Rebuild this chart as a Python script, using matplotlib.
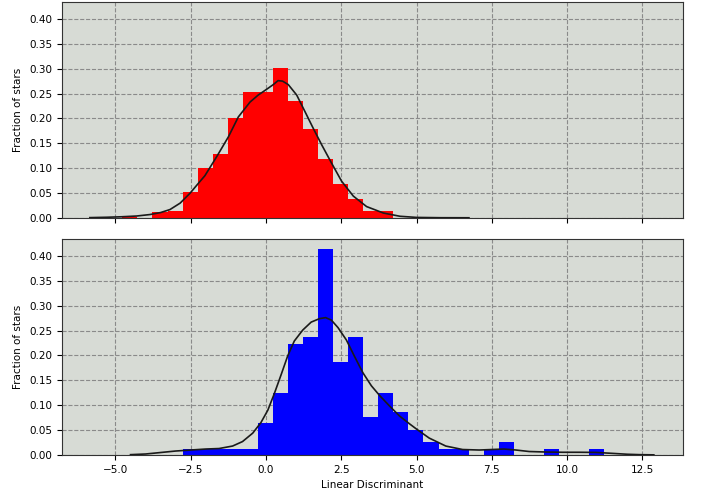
import numpy as np
import matplotlib.pyplot as plt

# histogram bins (left edge of first bin, common width)
red_start = -4.77
blue_start = -2.77
bin_w = 0.5

# fraction of stars per bin
red_heights = [0.003, 0.0, 0.013, 0.015, 0.053, 0.101, 0.129, 0.201, 0.253, 0.253,
               0.302, 0.235, 0.178, 0.118, 0.068, 0.038, 0.014, 0.014, 0.0, 0.0, 0.003]
blue_heights = [0.013, 0.013, 0.013, 0.013, 0.013, 0.065, 0.124, 0.224, 0.238, 0.413,
                0.187, 0.238, 0.077, 0.124, 0.087, 0.051, 0.027, 0.013, 0.013, 0.0,
                0.013, 0.027, 0.0, 0.0, 0.013, 0.0, 0.0, 0.013]

# kde curves
red_kde_x = [-5.85, -5.3, -4.8, -4.3, -3.85, -3.5, -3.19, -2.85, -2.52, -2.27,
             -2.03, -1.64, -1.25, -0.92, -0.53, -0.26, -0.09, 0.1, 0.24, 0.4,
             0.55, 0.74, 1.02, 1.3, 1.57, 1.85, 2.18, 2.51, 2.9, 3.34,
             3.9, 4.45, 5.0, 5.8, 6.74]
red_kde_y = [0.0008, 0.0015, 0.0025, 0.004, 0.007, 0.011, 0.017, 0.030, 0.050, 0.068,
             0.085, 0.123, 0.163, 0.203, 0.233, 0.247, 0.254, 0.262, 0.268, 0.276,
             0.275, 0.268, 0.247, 0.213, 0.180, 0.147, 0.110, 0.074, 0.044, 0.023,
             0.010, 0.0035, 0.0012, 0.0006, 0.0005]
blue_kde_x = [-4.5, -4.0, -3.5, -3.0, -2.5, -2.0, -1.56, -1.11, -0.78, -0.44,
              -0.17, 0.06, 0.28, 0.5, 0.72, 0.94, 1.22, 1.5, 1.78, 1.98,
              2.17, 2.39, 2.67, 2.94, 3.22, 3.5, 3.78, 4.11, 4.44, 4.78,
              5.0, 5.42, 5.97, 6.53, 7.08, 7.5, 7.9, 8.3, 8.74, 9.3,
              9.85, 10.4, 10.95, 11.5, 12.0, 12.4, 12.88]
blue_kde_y = [0.0007, 0.002, 0.005, 0.008, 0.010, 0.012, 0.013, 0.018, 0.027, 0.044,
              0.065, 0.090, 0.124, 0.161, 0.199, 0.229, 0.251, 0.267, 0.274, 0.276,
              0.271, 0.256, 0.231, 0.198, 0.165, 0.139, 0.119, 0.098, 0.078, 0.062,
              0.052, 0.034, 0.018, 0.011, 0.010, 0.011, 0.012, 0.010, 0.007, 0.006,
              0.0055, 0.0055, 0.0052, 0.0033, 0.0015, 0.0007, 0.0003]

x_ticks = [-5.0, -2.5, 0.0, 2.5, 5.0, 7.5, 10.0, 12.5]
y_ticks = [0.00, 0.05, 0.10, 0.15, 0.20, 0.25, 0.30, 0.35, 0.40]

plt.rcParams['font.size'] = 7.5

fig, axes = plt.subplots(2, 1, figsize=(7.03, 4.97), dpi=100, sharex=True)
fig.subplots_adjust(left=0.088, right=0.9716, bottom=0.0845, top=0.996, hspace=0.097)

panels = [
    (axes[0], red_start, red_heights, 'red', red_kde_x, red_kde_y),
    (axes[1], blue_start, blue_heights, 'blue', blue_kde_x, blue_kde_y),
]

for ax, start, heights, col, kx, ky in panels:
    lefts = start + bin_w * np.arange(len(heights))
    ax.set_facecolor('#d7dbd5')
    ax.bar(lefts, heights, width=bin_w, align='edge', color=col,
           linewidth=0, zorder=2)
    ax.plot(kx, ky, color='#1a1a1a', linewidth=1.2, zorder=3)
    ax.grid(True, linestyle='--', color='#8a8a8a', linewidth=0.8, zorder=1)
    ax.set_axisbelow(True)
    ax.set_xticks(x_ticks)
    ax.set_yticks(y_ticks)
    ax.set_xlim(-6.78, 13.85)
    ax.set_ylim(0, 0.434)
    ax.set_ylabel('Fraction of stars')
    for s in ax.spines.values():
        s.set_color('#333333')

axes[1].set_xlabel('Linear Discriminant')

plt.savefig('out.png', dpi=100)
